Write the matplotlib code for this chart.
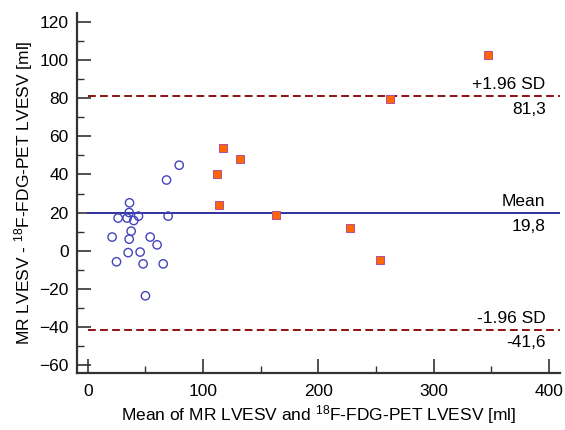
import matplotlib
matplotlib.use("Agg")
import matplotlib.pyplot as plt
from matplotlib.ticker import MultipleLocator

plt.rcParams['font.family'] = ['Liberation Sans', 'DejaVu Sans']
plt.rcParams['mathtext.fontset'] = 'custom'
plt.rcParams['mathtext.rm'] = 'Liberation Sans'
plt.rcParams['mathtext.it'] = 'Liberation Sans'

# Group 1 (open circles)
circle_x = [79.3, 68.3, 36.2, 35.9, 26.3, 34.1, 39.9, 44.0, 69.7, 37.6,
            21.1, 35.9, 54.1, 60.1, 35.0, 45.4, 24.9, 48.0, 65.4, 50.0]
circle_y = [44.9, 37.1, 25.1, 20.0, 17.1, 17.1, 15.8, 18.1, 18.1, 10.2,
            7.1, 6.0, 7.1, 3.0, -1.1, -0.8, -5.9, -7.0, -7.0, -23.8]
# Group 2 (filled squares)
square_x = [347.3, 262.3, 116.9, 132.2, 111.9, 113.9, 163.4, 227.3, 253.6]
square_y = [102.6, 79.7, 53.9, 47.9, 40.0, 24.1, 18.8, 11.8, -4.9]

mean_val = 19.8
upper_loa = 81.3
lower_loa = -41.6
mean_label = "19,8"
upper_label = "81,3"
lower_label = "-41,6"

fig = plt.figure(figsize=(5.65, 4.3), dpi=100)
ax = fig.add_axes([0.136, 0.1326, 0.855, 0.8374])

dark_red = '#8f1010'
navy = '#3030a0'

ax.axhline(upper_loa, color=dark_red, lw=1.4, dashes=(4, 2.2), xmin=(0 + 9.5) / 419, xmax=1)
ax.axhline(lower_loa, color=dark_red, lw=1.4, dashes=(4, 2.2), xmin=(0 + 9.5) / 419, xmax=1)
ax.axhline(mean_val, color=navy, lw=1.4, xmin=(0 + 9.5) / 419, xmax=1)

ax.scatter(circle_x, circle_y, s=36, facecolors='none', edgecolors='#4444bb', linewidths=1.0, zorder=3)
ax.scatter(square_x, square_y, s=36, marker='s', facecolors='#ff6600', edgecolors='#b050a0', linewidths=0.7, zorder=3)

tx = 397
fs = 12.5
ax.text(tx, upper_loa + 2, "+1.96 SD", ha='right', va='bottom', fontsize=fs)
ax.text(tx, upper_loa - 3, upper_label, ha='right', va='top', fontsize=fs)
ax.text(tx, mean_val + 2, "Mean", ha='right', va='bottom', fontsize=fs)
ax.text(tx, mean_val - 3, mean_label, ha='right', va='top', fontsize=fs)
ax.text(tx, lower_loa + 2, "-1.96 SD", ha='right', va='bottom', fontsize=fs)
ax.text(tx, lower_loa - 3, lower_label, ha='right', va='top', fontsize=fs)

ax.set_xlim(-9.5, 409.5)
ax.set_ylim(-64.4, 125)
ax.xaxis.set_major_locator(MultipleLocator(100))
ax.xaxis.set_minor_locator(MultipleLocator(50))
ax.yaxis.set_major_locator(MultipleLocator(20))
ax.yaxis.set_minor_locator(MultipleLocator(10))
ax.set_yticks(range(-60, 121, 20))
ax.set_xticks(range(0, 401, 100))

for s in ['top', 'right']:
    ax.spines[s].set_visible(False)
for s in ['left', 'bottom']:
    ax.spines[s].set_linewidth(1.6)
    ax.spines[s].set_color('#333333')

ax.tick_params(which='major', direction='in', length=10, width=1.2, labelsize=fs, color='#333333')
ax.tick_params(which='minor', direction='in', length=5, width=1.0, color='#333333')
ax.tick_params(axis='x', pad=8)
ax.tick_params(axis='y', pad=6)

ax.set_xlabel("Mean of MR LVESV and $^{18}$F-FDG-PET LVESV [ml]", fontsize=fs, labelpad=3)
ax.set_ylabel("MR LVESV - $^{18}$F-FDG-PET LVESV [ml]", fontsize=fs, labelpad=3)

fig.savefig("out.png", dpi=100)
